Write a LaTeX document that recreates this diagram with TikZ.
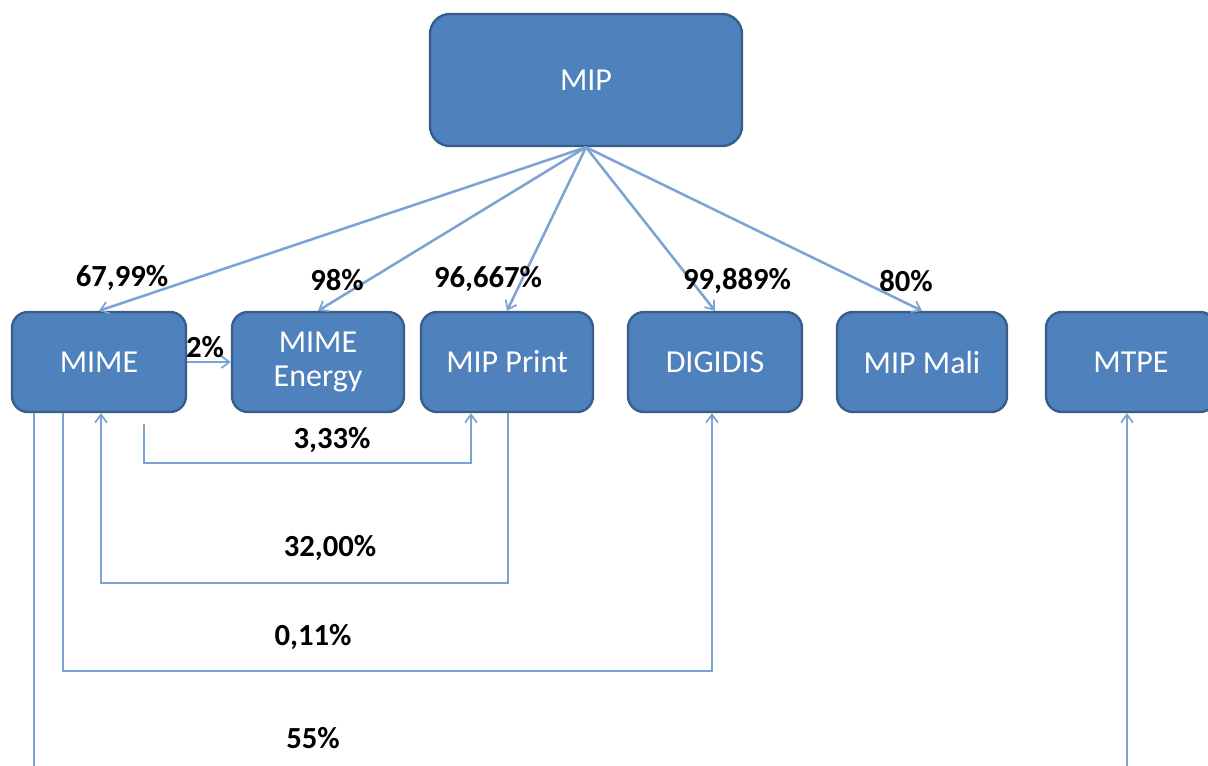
\documentclass[tikz,border=0pt]{standalone}
\usepackage{fontspec}
\setmainfont{Carlito}
\usetikzlibrary{arrows.meta,calc}
\definecolor{boxfill}{HTML}{4F81BD}
\definecolor{boxdraw}{HTML}{385D8A}
\definecolor{conn}{HTML}{7DA3D3}
\tikzset{
  box/.style={draw=boxdraw, fill=boxfill, line width=1.8pt, rounded corners=12pt,
    text=white, font=\fontsize{24}{28}\selectfont, align=center, inner sep=0pt},
  arr/.style={draw=conn, line width=1.9pt, -{Straight Barb[length=6pt,width=9pt,line width=1.3pt]}},
  lab/.style={font=\fontsize{23}{27}\bfseries\selectfont, text=black, inner sep=0pt}
}
\begin{document}
\begin{tikzpicture}[x=0.75pt,y=-0.75pt]
\useasboundingbox (0,0) rectangle (1208,765);
\clip (0,0) rectangle (1208,765);
\node[box, minimum width=234pt, minimum height=99pt, rounded corners=15pt] (mip) at (586,80) {MIP};
\node[box, minimum width=130.5pt, minimum height=75pt] (mime) at (99,362) {MIME};
\node[box, minimum width=129pt, minimum height=75pt] (mimeen) at (318,362) {MIME\\[-2pt]Energy};
\node[box, minimum width=129pt, minimum height=75pt] (mipprint) at (507,362) {MIP Print};
\node[box, minimum width=130.5pt, minimum height=75pt] (digidis) at (715,362) {DIGIDIS};
\node[box, minimum width=127.5pt, minimum height=75pt] (mipmali) at (922,362) {MIP Mali};
\node[box, minimum width=127.5pt, minimum height=75pt] (mtpe) at (1131,362) {MTPE};

\draw[arr] (mip.south) -- (mime.north);
\draw[arr] (mip.south) -- (mimeen.north);
\draw[arr] (mip.south) -- (mipprint.north);
\draw[arr] (mip.south) -- (digidis.north);
\draw[arr] (mip.south) -- (mipmali.north);
\draw[arr] (mime.east) -- (mimeen.west);

\draw[arr] ($(mime.south)+(45,11)$) -- ++(0,39) -| ($(mipprint.south)+(-36,0)$);
\draw[arr] ($(mipprint.south)+(1,0)$) |- ($(mime.south)+(2,170)$) -- ($(mime.south)+(2,0)$);
\draw[arr] ($(mime.south)+(-36,0)$) |- ($(digidis.south)+(-3,258)$) -- ($(digidis.south)+(-3,0)$);
\draw[arr] ($(mime.south)+(-65,0)$) |- ($(mtpe.south)+(-4,420)$) -- ($(mtpe.south)+(-4,0)$);

\node[lab] (l1) at (122,278) {67,99\%};
\node[lab] (l2) at (337,280) {98\%};
\node[lab] (l3) at (488,279) {96,667\%};
\node[lab] (l4) at (737,281) {99,889\%};
\node[lab] (l5) at (906,281) {80\%};
\node[lab] (l6) at (205,347) {2\%};
\node[lab] (l7) at (332,440) {3,33\%};
\node[lab] (l8) at (330,548) {32,00\%};
\node[lab] (l9) at (313,637) {0,11\%};
\node[lab] (l10) at (313,738) {55\%};
\end{tikzpicture}
\end{document}
